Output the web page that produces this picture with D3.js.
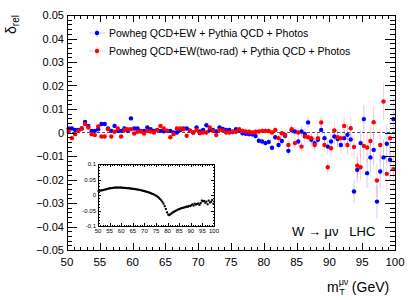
<!DOCTYPE html>
<html>
<head>
<meta charset="utf-8">
<script src="https://cdn.jsdelivr.net/npm/d3@7"></script>
<style>
  body { margin: 0; background: #fff; }
  svg { display: block; font-family: "Liberation Sans", Arial, sans-serif; }
</style>
</head>
<body>
<svg id="chart"></svg>
<script>
// bin centres of m_T (0.5 GeV bins from 50 to 100)
const mT = d3.range(100).map(i => 50.25 + 0.5 * i);

// Powheg QCD+EW + Pythia QCD + Photos (blue)
const deltaEW = [
  0.0017, 0.0017, 0.0011, 0.0011, 0.0017, 0.0045, 0.0028, 0.0007, 0.0007, 0.0014,
  0.0036, 0.0036, 0.0017, 0.0007, 0.0028, 0.0007, 0.0007, 0.0017, 0.0007, 0.0060,
  0.0017, 0.0017, 0.0007, 0.0007, 0.0021, 0.0014, 0.0007, 0.0011, 0.0007, 0.0005,
  0.0007, 0.0007, 0.0000, 0.0000, 0.0010, 0.0017, 0.0017, 0.0008, 0.0000, 0.0021,
  0.0005, 0.0011, 0.0031, 0.0010, 0.0011, 0.0005, 0.0021, 0.0015, 0.0011, 0.0011,
  0.0002, 0.0014, 0.0008, -0.0003, -0.0005, -0.0007, -0.0008, -0.0015, -0.0035, -0.0038,
  -0.0045, -0.0040, -0.0065, -0.0020, -0.0053, -0.0036, -0.0014, -0.0078, 0.0010, 0.0004,
  -0.0038, 0.0004, -0.0006, 0.0043, -0.0031, -0.0045, -0.0031, 0.0011, -0.0024, -0.0060,
  -0.0038, -0.0017, -0.0028, -0.0053, -0.0024, -0.0010, -0.0030, -0.0251, -0.0159, -0.0045,
  0.0057, -0.0173, -0.0106, -0.0074, -0.0294, -0.0166, -0.0106, -0.0048, -0.0116, 0.0057
];

// Powheg QCD+EW(two-rad) + Pythia QCD + Photos (red)
const deltaTwoRad = [
  0.0003, -0.0024, -0.0007, 0.0007, 0.0017, 0.0036, 0.0021, -0.0007, -0.0011, 0.0026,
  -0.0017, -0.0017, 0.0014, -0.0017, 0.0003, 0.0017, -0.0017, 0.0011, 0.0014, 0.0014,
  -0.0004, 0.0003, 0.0004, -0.0004, 0.0007, 0.0004, 0.0000, 0.0010, 0.0028, 0.0017,
  0.0008, -0.0020, -0.0007, 0.0017, 0.0017, 0.0014, -0.0014, 0.0008, 0.0000, 0.0011,
  -0.0003, 0.0000, 0.0000, 0.0021, 0.0007, -0.0011, 0.0011, 0.0008, 0.0000, 0.0000,
  0.0003, 0.0003, 0.0014, 0.0007, 0.0004, 0.0003, 0.0000, 0.0003, 0.0004, 0.0007,
  0.0007, 0.0007, 0.0000, 0.0011, -0.0024, -0.0003, -0.0010, -0.0053, 0.0014, -0.0045,
  0.0000, -0.0060, -0.0017, -0.0020, -0.0024, -0.0053, -0.0024, 0.0043, -0.0053, -0.0148,
  -0.0067, 0.0009, -0.0020, -0.0024, 0.0028, -0.0053, 0.0018, -0.0062, -0.0141, -0.0148,
  -0.0057, -0.0064, -0.0036, 0.0044, -0.0204, -0.0053, 0.0132, -0.0176, -0.0024, -0.0156
];

// statistical error per bin (both samples)
const statErr = [
  0.0008, 0.0008, 0.0008, 0.0008, 0.0008, 0.0008, 0.0008, 0.0008, 0.0008, 0.0008,
  0.0008, 0.0008, 0.0008, 0.0008, 0.0008, 0.0008, 0.0008, 0.0008, 0.0008, 0.0008,
  0.0008, 0.0008, 0.0008, 0.0008, 0.0008, 0.0008, 0.0008, 0.0008, 0.0008, 0.0008,
  0.0008, 0.0008, 0.0008, 0.0008, 0.0008, 0.0008, 0.0008, 0.0008, 0.0008, 0.0008,
  0.0009, 0.0009, 0.0009, 0.0009, 0.0010, 0.0010, 0.0010, 0.0010, 0.0011, 0.0011,
  0.0011, 0.0011, 0.0012, 0.0012, 0.0012, 0.0012, 0.0012, 0.0012, 0.0012, 0.0012,
  0.0013, 0.0013, 0.0014, 0.0014, 0.0015, 0.0016, 0.0016, 0.0017, 0.0018, 0.0019,
  0.0020, 0.0021, 0.0022, 0.0023, 0.0024, 0.0025, 0.0026, 0.0027, 0.0028, 0.0030,
  0.0032, 0.0034, 0.0036, 0.0038, 0.0040, 0.0043, 0.0046, 0.0050, 0.0053, 0.0056,
  0.0059, 0.0062, 0.0065, 0.0068, 0.0071, 0.0074, 0.0078, 0.0082, 0.0086, 0.0090
];

// inset: full EW correction
const insetDelta = [
  0.013, 0.014, 0.015, 0.015, 0.016, 0.017, 0.018, 0.019, 0.020, 0.021,
  0.022, 0.022, 0.023, 0.023, 0.024, 0.024, 0.024, 0.024, 0.024, 0.024,
  0.024, 0.023, 0.023, 0.023, 0.022, 0.022, 0.022, 0.021, 0.021, 0.020,
  0.020, 0.019, 0.019, 0.018, 0.017, 0.017, 0.016, 0.015, 0.014, 0.013,
  0.012, 0.011, 0.010, 0.009, 0.007, 0.006, 0.004, 0.003, 0.001, -0.001,
  -0.003, -0.006, -0.009, -0.013, -0.017, -0.022, -0.028, -0.036, -0.045, -0.056,
  -0.063, -0.065, -0.062, -0.059, -0.056, -0.054, -0.052, -0.050, -0.048, -0.046,
  -0.045, -0.043, -0.042, -0.041, -0.040, -0.039, -0.037, -0.038, -0.035, -0.036,
  -0.033, -0.030, -0.034, -0.028, -0.031, -0.029, -0.027, -0.032, -0.026, -0.018,
  -0.020, -0.019, -0.025, -0.021, -0.030, -0.018, -0.024, -0.022, -0.016, -0.028
];

const xTicks = [50, 55, 60, 65, 70, 75, 80, 85, 90, 95, 100];
const yTicks = [-0.05, -0.04, -0.03, -0.02, -0.01, 0, 0.01, 0.02, 0.03, 0.04, 0.05];
const insetYTicks = [-0.1, -0.05, 0, 0.05, 0.1];
const insetYLabels = ["-0.1", "-0.05", "0", "0.05", "0.1"];
const legendLabels = [
  "Powheg QCD+EW + Pythia QCD + Photos",
  "Powheg QCD+EW(two-rad) + Pythia QCD + Photos"
];
const seriesColors = ["#0000ff", "#ff0000"];

const W = 418, H = 300;
const svg = d3.select("#chart").attr("width", W).attr("height", H);
svg.append("rect").attr("width", W).attr("height", H).attr("fill", "#fff");

const frame = { left: 67, right: 395, top: 15, bottom: 250 };

const x = d3.scaleLinear().domain([50, 100]).range([frame.left, frame.right]);
const y = d3.scaleLinear().domain([-0.05, 0.05]).range([frame.bottom, frame.top]);

// draws inward ticks on all four sides of a frame
function drawTicks(g, xs, ys, opt) {
  const [x0, x1] = xs.range(), [y0, y1] = ys.range(); // y0 bottom, y1 top
  const xMinor = d3.range(xs.domain()[0], xs.domain()[1] + 1e-9, opt.xMinorStep);
  const yMinor = d3.range(ys.domain()[0], ys.domain()[1] + 1e-9, opt.yMinorStep);
  const t = g.append("g").attr("stroke", "#000").attr("stroke-width", 1).attr("shape-rendering", "crispEdges");
  const isMajor = (v, list) => list.some(m => Math.abs(m - v) < 1e-9);
  xMinor.forEach(v => {
    const len = isMajor(v, opt.xMajor) ? opt.xMajorLen : opt.xMinorLen;
    const px = Math.round(xs(v)) + 0.5;
    t.append("line").attr("x1", px).attr("x2", px).attr("y1", y0).attr("y2", y0 - len);
    t.append("line").attr("x1", px).attr("x2", px).attr("y1", y1).attr("y2", y1 + len);
  });
  yMinor.forEach(v => {
    const len = isMajor(v, opt.yMajor) ? opt.yMajorLen : opt.yMinorLen;
    const py = Math.round(ys(v)) + 0.5;
    t.append("line").attr("x1", x0).attr("x2", x0 + len).attr("y1", py).attr("y2", py);
    t.append("line").attr("x1", x1).attr("x2", x1 - len).attr("y1", py).attr("y2", py);
  });
}

// zero line
svg.append("line")
  .attr("x1", frame.left).attr("x2", frame.right)
  .attr("y1", y(0)).attr("y2", y(0))
  .attr("stroke", "#555").attr("stroke-width", 1).attr("stroke-dasharray", "3,2");

// data series
const series = [deltaEW, deltaTwoRad];
series.forEach((vals, s) => {
  const g = svg.append("g");
  g.selectAll("line.err")
    .data(vals)
    .join("line")
    .attr("class", "err")
    .attr("x1", (d, i) => x(mT[i])).attr("x2", (d, i) => x(mT[i]))
    .attr("y1", (d, i) => y(d - statErr[i])).attr("y2", (d, i) => y(d + statErr[i]))
    .attr("stroke", seriesColors[s]).attr("stroke-opacity", 0.2).attr("stroke-width", 1);
});
series.forEach((vals, s) => {
  svg.append("g").selectAll("circle")
    .data(vals)
    .join("circle")
    .attr("cx", (d, i) => x(mT[i]))
    .attr("cy", d => y(d))
    .attr("r", 2.2)
    .attr("fill", seriesColors[s]);
});

// frame + ticks
svg.append("rect")
  .attr("x", frame.left + 0.5).attr("y", frame.top + 0.5)
  .attr("width", frame.right - frame.left).attr("height", frame.bottom - frame.top)
  .attr("fill", "none").attr("stroke", "#000");
drawTicks(svg, x, y, {
  xMajor: xTicks, yMajor: yTicks, xMinorStep: 1, yMinorStep: 0.002,
  xMajorLen: 7, xMinorLen: 3.5, yMajorLen: 10, yMinorLen: 5
});

// tick labels
svg.append("g").selectAll("text")
  .data(yTicks)
  .join("text")
  .attr("x", frame.left - 3)
  .attr("y", d => y(d) + 4)
  .attr("text-anchor", "end")
  .attr("font-size", 11)
  .text(d => d === 0 ? "0" : d3.format(".2f")(d));

svg.append("g").selectAll("text")
  .data(xTicks)
  .join("text")
  .attr("x", d => x(d))
  .attr("y", frame.bottom + 16)
  .attr("text-anchor", "middle")
  .attr("font-size", 11.5)
  .text(d => d);

// axis titles
const xt = svg.append("text").attr("x", 327).attr("y", 292).attr("font-size", 14);
xt.append("tspan").text("m");
xt.append("tspan").attr("font-size", 9).attr("dy", -7).text("μν");
xt.append("tspan").attr("font-size", 9).attr("dx", -9).attr("dy", 10).text("T");
xt.append("tspan").attr("dy", -3).attr("dx", 7).text("(GeV)");

const yt = svg.append("text")
  .attr("transform", "translate(15.5,15) rotate(-90)")
  .attr("text-anchor", "end")
  .attr("font-size", 14);
yt.append("tspan").text("δ");
yt.append("tspan").attr("font-size", 10).attr("dy", 3).text("rel");

// legend
const legend = svg.append("g").selectAll("g")
  .data(legendLabels)
  .join("g")
  .attr("transform", (d, i) => `translate(97,${33 + i * 18})`);
legend.append("line").attr("x1", -8).attr("x2", 8)
  .attr("stroke", (d, i) => seriesColors[i]).attr("stroke-opacity", 0.2);
legend.append("line").attr("y1", -4).attr("y2", 4)
  .attr("stroke", (d, i) => seriesColors[i]).attr("stroke-opacity", 0.2);
legend.append("circle").attr("r", 2.2).attr("fill", (d, i) => seriesColors[i]);
legend.append("text")
  .attr("x", 12).attr("y", 3.8)
  .attr("font-size", 10.5)
  .text(d => d);

// process label
svg.append("text")
  .attr("x", 292).attr("y", 236)
  .attr("font-size", 13)
  .text("W → μν   LHC")
  .attr("xml:space", "preserve");

// inset
const inset = { left: 98, right: 214, top: 164, bottom: 226 };
const xi = d3.scaleLinear().domain([50, 100]).range([inset.left, inset.right]);
const yi = d3.scaleLinear().domain([-0.1, 0.1]).range([inset.bottom, inset.top]);
const ig = svg.append("g");
ig.append("rect")
  .attr("x", inset.left + 0.5).attr("y", inset.top + 0.5)
  .attr("width", inset.right - inset.left).attr("height", inset.bottom - inset.top)
  .attr("fill", "#fff").attr("stroke", "#000");
ig.selectAll("rect.pt")
  .data(insetDelta)
  .join("rect")
  .attr("class", "pt")
  .attr("x", (d, i) => xi(mT[i]) - 1)
  .attr("y", d => yi(d) - 1)
  .attr("width", 2).attr("height", 2)
  .attr("fill", "#000");
drawTicks(ig, xi, yi, {
  xMajor: xTicks, yMajor: insetYTicks, xMinorStep: 1, yMinorStep: 0.01,
  xMajorLen: 3, xMinorLen: 1.5, yMajorLen: 3, yMinorLen: 1.5
});
ig.append("g").selectAll("text")
  .data(insetYTicks)
  .join("text")
  .attr("x", inset.left - 2)
  .attr("y", d => yi(d) + 2)
  .attr("text-anchor", "end")
  .attr("font-size", 6)
  .text((d, i) => insetYLabels[i]);
ig.append("g").selectAll("text")
  .data(xTicks)
  .join("text")
  .attr("x", d => xi(d))
  .attr("y", inset.bottom + 7)
  .attr("text-anchor", "middle")
  .attr("font-size", 6)
  .text(d => d);
</script>
</body>
</html>
